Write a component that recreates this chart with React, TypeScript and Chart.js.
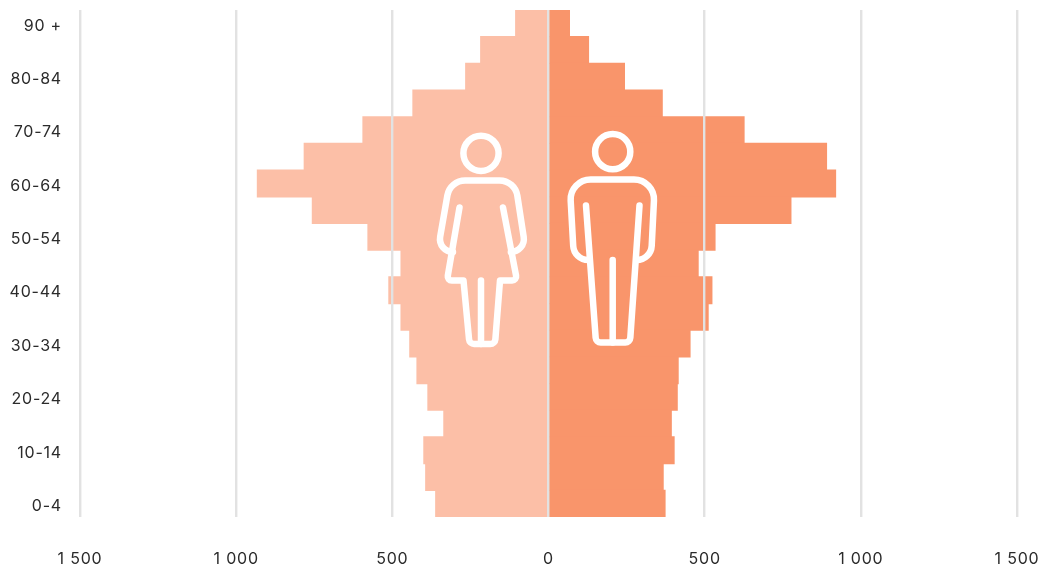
import React, { useEffect, useRef } from "react";
import { Chart, registerables } from "chart.js";

Chart.register(...registerables);

const ageGroups = ["90 +","85-89","80-84","75-79","70-74","65-69","60-64","55-59","50-54","45-49","40-44","35-39","30-34","25-29","20-24","15-19","10-14","5-9","0-4"];
const women = [105,217,265,434,594,782,932,756,578,472,511,472,444,421,386,335,399,393,361];
const men = [67,128,243,364,626,890,919,776,533,479,523,511,453,415,412,393,402,367,373];
const xTickValues = [-1500,-1000,-500,0,500,1000,1500];

const WOMAN_COLOR = "#FCBFA7";
const MAN_COLOR = "#F9956B";
const GRID_COLOR = "#E2E2E2";
const TEXT_COLOR = "#2b2b2b";
const FONT = "Inter, 'Open Sans', sans-serif";

type Pt = [number, number, number?];

// Pictogram outlines (decoration, not data): [x, y, cornerRadius]
const womanHead = { x: 481, y: 153.3, r: 17.6 };
const manHead = { x: 612.7, y: 151.7, r: 17.6 };
const womanPaths: Pt[][] = [
  [[459.5,207.5],[447,280.5,4],[463.5,280.5],[469.5,344,5],[495,344,5],[500,280.5],[517,280.5,4],[503,207.5]],
  [[481,280.5],[481,344]],
  [[451.5,252],[437.5,252,13],[450,180.5,18],[515,180.5,18],[526,252,13],[512,252]],
];
const manPaths: Pt[][] = [
  [[586,205.5],[596,342.5,5],[630,342.5,5],[639.5,205.5]],
  [[612.7,260],[612.7,342.5]],
  [[587,260],[574,260,15],[569.5,179.5,20],[655,179.5,20],[651,260,15],[638,260]],
];

function tracePath(ctx: CanvasRenderingContext2D, pts: Pt[]) {
  ctx.beginPath();
  ctx.moveTo(pts[0][0], pts[0][1]);
  for (let i = 1; i < pts.length; i++) {
    const [x, y, r] = pts[i];
    const next = pts[i + 1];
    if (r && next) ctx.arcTo(x, y, next[0], next[1], r);
    else ctx.lineTo(x, y);
  }
  ctx.stroke();
}

const figuresPlugin = {
  id: "figures",
  beforeDraw(chart: Chart) {
    (chart.ctx as any).letterSpacing = "0.8px";
  },
  afterDraw(chart: Chart) {
    const ctx = chart.ctx;
    ctx.save();
    ctx.strokeStyle = "#ffffff";
    ctx.lineWidth = 6.5;
    ctx.lineCap = "round";
    ctx.lineJoin = "round";
    for (const h of [womanHead, manHead]) {
      ctx.beginPath();
      ctx.arc(h.x, h.y, h.r, 0, Math.PI * 2);
      ctx.stroke();
    }
    for (const p of [...womanPaths, ...manPaths]) tracePath(ctx, p);
    ctx.restore();
  },
};

const noPadding = (scale: any) => {
  scale.paddingLeft = 0;
  scale.paddingRight = 0;
  scale.paddingTop = 0;
  scale.paddingBottom = 0;
};

export default function App() {
  const ref = useRef<HTMLCanvasElement>(null);
  useEffect(() => {
    const chart = new Chart(ref.current!, {
      type: "bar",
      data: {
        labels: ageGroups,
        datasets: [
          { label: "Women", data: women.map((v) => -v), backgroundColor: WOMAN_COLOR, borderWidth: 0, inflateAmount: 0.6 },
          { label: "Men", data: men, backgroundColor: MAN_COLOR, borderWidth: 0, inflateAmount: 0.6 },
        ],
      },
      options: {
        indexAxis: "y",
        animation: false,
        responsive: false,
        devicePixelRatio: 1,
        layout: { padding: { top: 10, right: 28, left: 0, bottom: 0 } },
        datasets: { bar: { barPercentage: 1, categoryPercentage: 1 } },
        plugins: { legend: { display: false }, tooltip: { enabled: false }, title: { display: false } },
        scales: {
          x: {
            type: "linear",
            min: -1500,
            max: 1500,
            stacked: true,
            afterBuildTicks(scale: any) {
              scale.ticks = xTickValues.map((value) => ({ value }));
            },
            afterFit(scale: any) {
              scale.height = 55;
              noPadding(scale);
            },
            grid: { color: GRID_COLOR, lineWidth: 2.4, z: 1, drawTicks: false },
            border: { display: false },
            ticks: {
              padding: 33,
              maxRotation: 0,
              color: TEXT_COLOR,
              font: { family: FONT, size: 16 },
              callback: (v: any) => {
                const a = Math.abs(Number(v));
                return a >= 1000 ? `${Math.floor(a / 1000)} ${String(a % 1000).padStart(3, "0")}` : String(a);
              },
            },
          },
          y: {
            type: "category",
            stacked: true,
            afterFit(scale: any) {
              scale.width = 80;
              noPadding(scale);
            },
            grid: { display: false, drawTicks: false },
            border: { display: false },
            ticks: {
              padding: 18,
              autoSkip: false,
              labelOffset: 2.5,
              color: TEXT_COLOR,
              font: { family: FONT, size: 16 },
              callback: (_: any, i: number) => (i % 2 === 0 ? ageGroups[i] : ""),
            },
          },
        },
      },
      plugins: [figuresPlugin],
    } as any);
    return () => chart.destroy();
  }, []);
  return (
    <div style={{ position: "absolute", left: 0, top: 0 }}>
      <canvas ref={ref} width={1045} height={572} style={{ display: "block" }} />
    </div>
  );
}
